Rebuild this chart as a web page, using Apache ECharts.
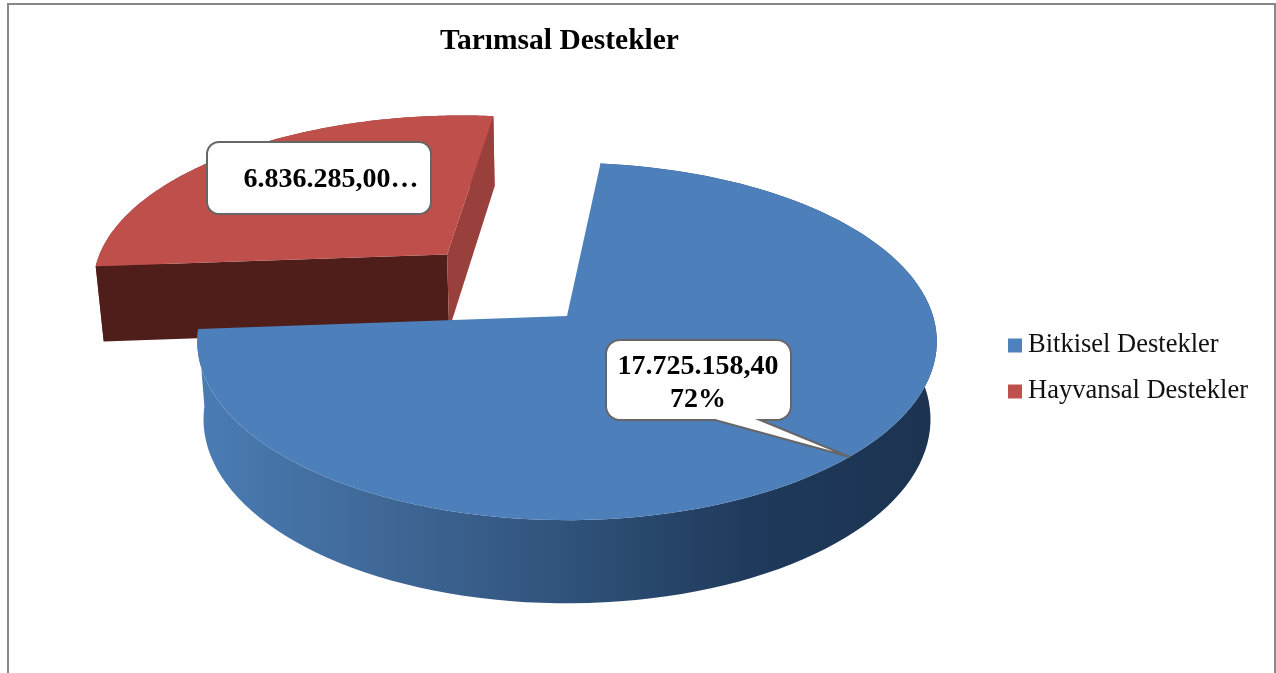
<!DOCTYPE html>
<html>
<head>
<meta charset="utf-8">
<title>Tarımsal Destekler</title>
<script src="https://cdn.jsdelivr.net/npm/echarts@6/dist/echarts.min.js"></script>
<style>
    html, body {margin: 0; padding: 0; background: #fff;}
    #chart {width: 1276px; height: 673px;}
</style>
</head>
<body>
<div id="chart"></div>
<script>
const chart_title = "Tarımsal Destekler"
const categories = ["Bitkisel Destekler", "Hayvansal Destekler"]
const values = [17725158.40, 6836285.00]

const FONT = '"Liberation Serif", "Times New Roman", serif'
const total = values[0] + values[1]

// tilted pie: a plan-view disc pushed through a small perspective
const CX = 567, CY = 316, RX = 366, RY = 175, PERSP = 1 / 7
const DEPTH = 77, BASE_SHRINK = 0.983
const START_ANGLE = 6    // degrees clockwise from the back of the pie
const EXPLODE = [-0.345, -0.37]

function project(u, v, base) {
    let w = 1 / (1 - PERSP * v)
    let x = CX + RX * u * w
    let y = CY + RY * v * w
    if (base) {
        x = CX + (x - CX) * BASE_SHRINK
        y = y + DEPTH * Math.sqrt(w)
    }
    return [x, y]
}

function rimPoints(from, to, off, base) {
    let pts = []
    for (let i = 0; i <= 120; i++) {
        let r = (from + (to - from) * i / 120) * Math.PI / 180
        pts.push(project(Math.sin(r) + off[0], -Math.cos(r) + off[1], base))
    }
    return pts
}

function sliceItem(from, to, off, colors) {
    let apex = project(off[0], off[1], false)
    let apexB = project(off[0], off[1], true)
    let top = rimPoints(from, to, off, false)
    let bottom = rimPoints(from, to, off, true)
    let first = top[0], firstB = bottom[0]
    let last = top[top.length - 1], lastB = bottom[bottom.length - 1]
    let poly = (points, fill) => ({type: "polygon", shape: {points: points}, style: {fill: fill}})
    let children = [poly(top.concat(bottom.slice().reverse()), colors.wall)]
    // cut faces only show on the exploded slice
    if (colors.startFace) children.push(poly([apex, first, firstB, apexB], colors.startFace))
    if (colors.endFace) children.push(poly([apex, last, lastB, apexB], colors.endFace))
    children.push(poly([apex].concat(top), colors.top))
    return {type: "group", children: children}
}

const blueWall = new echarts.graphic.LinearGradient(0, 0, 1, 0, [
    {offset: 0, color: "#4a7cb4"},
    {offset: 0.25, color: "#3f6897"},
    {offset: 0.5, color: "#30527a"},
    {offset: 0.75, color: "#1f3a5c"},
    {offset: 1, color: "#1c3350"}
])

const split = START_ANGLE + values[0] / total * 360

function fmt(n) {
    let parts = n.toFixed(2).split(".")
    return parts[0].replace(/\B(?=(\d{3})+$)/g, ".") + "," + parts[1]
}

function labelText(x, y, text) {
    return {
        type: "text", z: 20, x: x, y: y,
        style: {text: text, font: "bold 28px " + FONT, fill: "#000", align: "center", verticalAlign: "middle", lineHeight: 33}
    }
}

function corner(cx, cy, r, a0) {
    let pts = []
    for (let i = 0; i <= 8; i++) {
        let a = (a0 + 90 * i / 8) * Math.PI / 180
        pts.push([cx + r * Math.cos(a), cy + r * Math.sin(a)])
    }
    return pts
}

// rounded box, optional tail hanging off its bottom edge
function box(x1, y1, x2, y2, r, tail) {
    let pts = corner(x2 - r, y1 + r, r, -90).concat(corner(x2 - r, y2 - r, r, 0))
    if (tail) pts.push([tail[1], y2], [tail[2], tail[3]], [tail[0], y2])
    pts = pts.concat(corner(x1 + r, y2 - r, r, 90), corner(x1 + r, y1 + r, r, 180))
    return {type: "polygon", z: 19, shape: {points: pts}, style: {fill: "#fff", stroke: "#666", lineWidth: 2}}
}

let option = {
    animation: false,
    backgroundColor: "#fff",
    title: {
        text: chart_title, left: 435, top: 21,
        textStyle: {fontFamily: FONT, fontSize: 29.5, fontWeight: "bold", color: "#000"}
    },
    legend: {
        orient: "vertical", left: 1003, top: 327, itemGap: 19,
        itemWidth: 14, itemHeight: 14, icon: "rect", itemStyle: {borderWidth: 0},
        textStyle: {fontFamily: FONT, fontSize: 26.5, color: "#111", padding: [0, 0, 0, 1]},
        data: categories
    },
    graphic: [
        {type: "rect", z: -1, shape: {x: 8, y: 4, width: 1267, height: 680}, style: {fill: "none", stroke: "#888", lineWidth: 2}},
        box(207, 142, 431, 214, 12),
        labelText(331, 180, fmt(values[1]) + "…"),
        box(606, 340, 791, 420, 14, [715, 760, 850, 457]),
        labelText(698, 383, fmt(values[0]) + "\n" + Math.round(values[0] / total * 100) + "%")
    ],
    series: [
        {
            name: categories[1], type: "custom", coordinateSystem: "none",
            itemStyle: {color: "#C0504D"}, data: [values[1]],
            renderItem: () => sliceItem(split, START_ANGLE + 360, EXPLODE, {
                wall: "#8f3a37", startFace: "#4f1e1a", endFace: "#9a403c", top: "#BE4F4B"
            })
        },
        {
            name: categories[0], type: "custom", coordinateSystem: "none",
            itemStyle: {color: "#4F81BD"}, data: [values[0]],
            renderItem: () => sliceItem(START_ANGLE, split, [0, 0], {
                wall: blueWall, top: "#4D7FBB"
            })
        }
    ]
}

let pie_chart = echarts.init(document.getElementById("chart"))
pie_chart.setOption(option)
</script>
</body>
</html>
